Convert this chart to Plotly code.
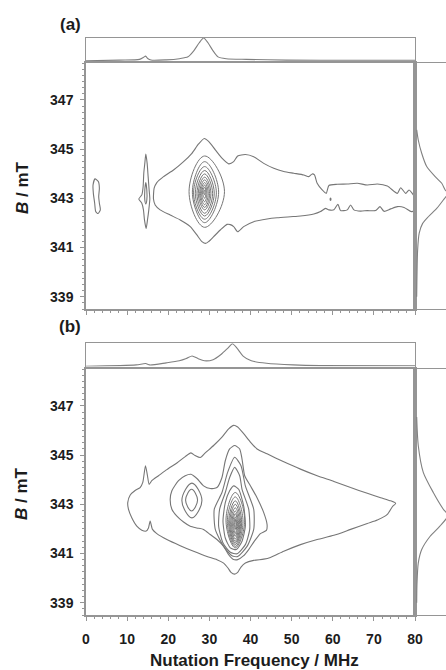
import plotly.graph_objects as go

# ---------------- DATA ----------------
freq_range = [0, 80]
field_range = [338.5, 348.5]
x_ticks = [0, 10, 20, 30, 40, 50, 60, 70, 80]
y_ticks = [339, 341, 343, 345, 347]

# ---- panel (a) contour outlines (Nutation frequency MHz, B mT) ----
a_loop1_f = [2.19, 3.0, 3.25, 3.09, 3.25, 3.49, 2.92, 2.36, 2.11, 1.79, 1.71, 2.19]
a_loop1_b = [343.79, 343.68, 343.41, 343.07, 342.80, 342.53, 342.38, 342.46, 342.80, 343.20, 343.54, 343.79]

a_loop2_f = [14.54, 14.87, 15.11, 15.35, 15.52, 15.27, 14.95, 14.62, 14.22, 13.97, 13.57, 12.84, 13.57, 13.89, 14.05, 14.30, 14.54]
a_loop2_b = [344.80, 344.42, 343.88, 343.34, 342.97, 342.53, 342.12, 341.77, 342.12, 342.53, 342.80, 342.97, 343.14, 343.47, 344.02, 344.42, 344.80]

a_loop3_f = [14.54, 14.79, 14.79, 14.54, 14.30, 14.30, 14.54]
a_loop3_b = [343.64, 343.34, 342.93, 342.77, 342.93, 343.34, 343.64]

a_outer_f = [16.41, 16.57, 17.22, 18.85, 21.28, 23.72, 25.75, 27.38, 28.76, 29.81, 31.44, 33.06, 34.69, 35.91,
             36.88, 38.75, 40.78, 43.22, 45.65, 48.09, 50.53, 52.96, 54.18, 55.00, 55.56, 56.21, 57.43, 58.41,
             59.06, 61.09, 63.53, 65.96, 68.40, 70.84, 73.27, 75.71, 76.52, 77.74, 78.55, 79.77, 80.0,
             79.77, 79.12, 77.34, 75.71, 74.09, 72.46, 71.49, 70.43, 68.40, 66.77, 65.15, 64.34, 63.53, 61.90,
             61.25, 60.28, 59.06, 58.25, 57.03, 55.40, 52.15, 49.72, 46.47, 44.03, 40.78, 38.34, 36.88, 35.91,
             35.09, 34.28, 32.66, 31.03, 29.81, 29.16, 28.19, 26.97, 25.35, 22.91, 20.47, 18.03, 16.82, 16.41]
a_outer_b = [342.97, 343.41, 343.64, 343.88, 344.15, 344.49, 344.83, 345.21, 345.43, 345.31, 344.97, 344.63, 344.40, 344.49,
             344.72, 344.78, 344.69, 344.42, 344.22, 344.09, 344.02, 343.95, 343.88, 343.99, 343.95, 343.61, 343.34, 343.20,
             343.52, 343.57, 343.58, 343.61, 343.54, 343.58, 343.50, 343.20, 343.43, 343.20, 343.34, 343.09, 342.86,
             342.50, 342.46, 342.63, 342.66, 342.57, 342.47, 342.66, 342.50, 342.50, 342.48, 342.53, 342.73, 342.53, 342.50,
             342.76, 342.53, 342.53, 342.59, 342.46, 342.36, 342.28, 342.25, 342.21, 342.16, 342.05, 341.85, 341.64, 341.85,
             341.93, 341.94, 341.71, 341.44, 341.24, 341.17, 341.24, 341.51, 341.85, 342.12, 342.32, 342.53, 342.73, 342.97]

a_dot_f = [59.35, 59.46, 59.57, 59.46, 59.35]
a_dot_b = [342.96, 343.01, 342.96, 342.91, 342.96]

# nested rings around the 29 MHz peak: left, right, top, bottom
a_ring_cf = 28.85
a_ring_left = [25.06, 25.87, 26.16, 26.57, 26.97, 27.30, 27.62, 27.86, 28.11, 28.35, 28.60]
a_ring_right = [33.67, 32.25, 31.70, 31.19, 30.79, 30.38, 30.06, 29.73, 29.41, 29.17, 28.92]
a_ring_top = [344.72, 344.49, 344.29, 344.13, 343.99, 343.86, 343.75, 343.64, 343.54, 343.45, 343.34]
a_ring_bot = [341.82, 342.01, 342.15, 342.28, 342.39, 342.53, 342.63, 342.74, 342.86, 343.00, 343.14]

# ---- panel (b) contour outlines ----
b_outer_f = [10.15, 10.72, 11.94, 13.16, 13.81, 14.46, 14.95, 15.35, 16.00, 17.63, 19.66, 22.10, 24.13, 25.51,
             26.56, 27.78, 29.00, 31.03, 33.06, 34.69, 35.91, 36.88, 38.34, 39.97, 41.59, 44.03, 48.09, 52.15,
             56.21, 60.28, 64.34, 68.40, 71.65, 74.09, 75.30, 74.49, 73.27, 70.84, 68.40, 64.34, 60.28, 56.21,
             52.15, 48.09, 44.84, 43.22, 40.78, 38.75, 37.69, 36.88, 36.15, 35.26, 34.52, 33.47, 31.84, 29.41,
             26.16, 22.91, 19.66, 17.22, 16.17, 15.60, 15.19, 14.62, 13.57, 12.35, 11.13, 10.32, 10.15]
b_outer_b = [343.07, 343.37, 343.56, 343.68, 343.89, 344.57, 344.16, 343.81, 343.96, 344.16, 344.41, 344.68, 344.94, 345.09,
             344.98, 344.90, 345.09, 345.39, 345.73, 346.07, 346.21, 346.14, 345.87, 345.53, 345.25, 345.05, 344.73, 344.43,
             344.16, 343.93, 343.68, 343.45, 343.27, 343.14, 343.04, 342.90, 342.59, 342.36, 342.22, 341.98, 341.74, 341.57,
             341.36, 341.09, 340.84, 340.77, 340.72, 340.61, 340.45, 340.23, 340.16, 340.23, 340.41, 340.61, 340.75, 340.88,
             341.09, 341.32, 341.57, 341.81, 341.98, 342.32, 342.04, 341.91, 341.95, 342.11, 342.45, 342.80, 343.07]

b_lvl2_f = [20.47, 20.88, 22.50, 24.13, 25.51, 26.97, 28.59, 30.22, 31.84, 33.06, 33.87, 34.93, 36.15, 37.37, 37.94,
            38.59, 39.97, 41.59, 43.22, 44.03, 43.87, 42.40, 40.94, 39.56, 38.34, 36.88, 35.74, 34.69, 33.47, 31.84,
            30.22, 28.59, 26.97, 25.35, 23.72, 22.10, 20.88, 20.47]
b_lvl2_b = [343.20, 343.55, 343.96, 344.16, 344.22, 344.05, 343.75, 343.64, 343.68, 344.09, 344.77, 345.25, 345.39, 345.25, 344.84,
            344.16, 343.75, 343.27, 342.66, 342.18, 341.94, 341.81, 341.50, 341.16, 340.91, 340.75, 340.77, 340.95, 341.29, 341.57,
            341.77, 341.98, 342.04, 342.11, 342.28, 342.52, 342.80, 343.20]

b_lvl3_f = [36.15, 37.69, 38.75, 40.78, 40.78, 39.16, 36.88, 35.50, 33.47, 31.44, 31.19, 33.06, 34.44, 36.15]
b_lvl3_b = [344.91, 344.57, 343.75, 342.80, 341.98, 341.29, 340.88, 340.91, 341.29, 341.98, 342.80, 343.48, 344.30, 344.91]

b_lvl4_f = [36.15, 37.37, 37.94, 39.56, 39.81, 38.75, 36.72, 35.09, 33.31, 32.25, 32.49, 33.87, 34.93, 36.15]
b_lvl4_b = [344.50, 344.16, 343.61, 342.80, 341.98, 341.36, 340.99, 341.05, 341.43, 342.11, 342.80, 343.48, 344.09, 344.50]

b_lvl5_f = [35.91, 37.12, 38.34, 38.75, 37.94, 36.56, 35.09, 33.87, 33.31, 33.87, 34.93, 35.91]
b_lvl5_b = [343.75, 343.61, 342.93, 342.11, 341.50, 341.16, 341.23, 341.63, 342.32, 343.07, 343.55, 343.75]

# rings around the 26 MHz peak: left, right, top, bottom
b_side_left = [23.31, 24.21]
b_side_right = [28.19, 27.13]
b_side_top = [343.86, 343.61]
b_side_bot = [342.45, 342.73]

# dense rings around the 36 MHz peak
b_ring_cf = 36.3
b_ring_left = [34.04, 34.36, 34.69, 34.93, 35.17, 35.42, 35.66, 35.91, 36.15]
b_ring_right = [38.59, 38.18, 37.86, 37.61, 37.37, 37.12, 36.88, 36.64, 36.48]
b_ring_top = [343.48, 343.30, 343.14, 343.00, 342.86, 342.73, 342.62, 342.49, 342.39]
b_ring_bot = [341.23, 341.29, 341.36, 341.43, 341.50, 341.59, 341.70, 341.81, 341.98]

# ---- projections (normalised intensity) ----
a_top_f = [0, 8.1, 13.0, 14.0, 14.5, 15.0, 15.8, 19.5, 22.7, 24.8, 26.2, 27.5, 28.6, 29.7, 30.9, 32.1, 34.1, 39.0, 48.7, 65.0, 80.0]
a_top_i = [0.01, 0.04, 0.07, 0.16, 0.21, 0.11, 0.04, 0.05, 0.10, 0.18, 0.44, 0.78, 1.0, 0.78, 0.44, 0.18, 0.10, 0.07, 0.04, 0.03, 0.03]

b_top_f = [0, 12.2, 14.5, 15.5, 19.5, 22.7, 24.4, 25.8, 27.2, 28.8, 30.9, 32.9, 34.5, 35.6, 36.7, 38.2, 40.2, 43.9, 50.4, 56.9, 80.0]
b_top_i = [0.01, 0.07, 0.13, 0.07, 0.16, 0.25, 0.35, 0.46, 0.35, 0.25, 0.30, 0.54, 0.81, 1.0, 0.81, 0.46, 0.25, 0.14, 0.07, 0.04, 0.03]

a_side_b = [345.78, 345.37, 344.83, 344.29, 343.88, 343.61, 343.34, 343.20, 342.93, 342.59, 342.25, 341.98, 341.58, 340.90, 339.0]
a_side_i = [0.0, 0.05, 0.16, 0.32, 0.59, 0.80, 0.91, 1.0, 0.85, 0.64, 0.37, 0.19, 0.08, 0.03, 0.0]

b_side_b = [346.55, 345.39, 344.30, 343.48, 342.80, 342.55, 342.11, 341.70, 341.16, 340.61, 339.79, 339.0]
b_side_i = [0.0, 0.05, 0.21, 0.53, 0.85, 1.0, 0.74, 0.43, 0.16, 0.05, 0.01, 0.0]

# ---------------- FIGURE ----------------
W, H = 446, 670
LINE = "#767676"
FRAME = "#959595"
TXT = "#1c1c1c"


def xd(a, b):
    return [a / W, b / W]


def yd(top, bot):
    return [1 - bot / H, 1 - top / H]


def ring(cf, left, right, top, bot):
    mid = (top + bot) / 2
    return [cf, right, cf, left, cf], [top, mid, bot, mid, top]


fig = go.Figure()


def add_line(xs, ys, xa, ya, smooth=0.8, width=1.1, color=LINE):
    fig.add_trace(go.Scatter(x=xs, y=ys, mode="lines", xaxis=xa, yaxis=ya,
                             line=dict(color=color, width=width, shape="spline", smoothing=smooth),
                             hoverinfo="skip", showlegend=False))


# panel (a) main : x / y
for fx, by in [(a_loop1_f, a_loop1_b), (a_loop2_f, a_loop2_b), (a_loop3_f, a_loop3_b),
               (a_outer_f, a_outer_b), (a_dot_f, a_dot_b)]:
    add_line(fx, by, "x", "y", smooth=0.6)
for l, r, t, b in zip(a_ring_left, a_ring_right, a_ring_top, a_ring_bot):
    fx, by = ring(a_ring_cf, l, r, t, b)
    add_line(fx, by, "x", "y", smooth=1.2, width=1.0)

# panel (a) projections
add_line(a_top_f, a_top_i, "x2", "y2", smooth=0.7, color="#808080")
add_line(a_side_i, a_side_b, "x3", "y3", smooth=0.7, color="#808080")

# panel (b) main : x4 / y4
for fx, by in [(b_outer_f, b_outer_b), (b_lvl2_f, b_lvl2_b), (b_lvl3_f, b_lvl3_b),
               (b_lvl4_f, b_lvl4_b), (b_lvl5_f, b_lvl5_b)]:
    add_line(fx, by, "x4", "y4", smooth=0.6)
for l, r, t, b in zip(b_side_left, b_side_right, b_side_top, b_side_bot):
    fx, by = ring((l + r) / 2, l, r, t, b)
    add_line(fx, by, "x4", "y4", smooth=1.1)
for l, r, t, b in zip(b_ring_left, b_ring_right, b_ring_top, b_ring_bot):
    fx, by = ring(b_ring_cf, l, r, t, b)
    add_line(fx, by, "x4", "y4", smooth=1.2, width=1.0)

# panel (b) projections
add_line(b_top_f, b_top_i, "x5", "y5", smooth=0.7, color="#808080")
add_line(b_side_i, b_side_b, "x6", "y6", smooth=0.7, color="#808080")

tickfont = dict(family="Liberation Sans, Arial, sans-serif", size=14, color=TXT, weight="bold")

main_x = dict(range=freq_range, showline=True, mirror=True, linecolor=FRAME, linewidth=1.5,
              showgrid=False, zeroline=False, ticks="outside", ticklen=4, tickcolor=FRAME,
              tickvals=x_ticks, tickfont=tickfont, ticklabelstandoff=6,
              minor=dict(dtick=2, tick0=0, ticks="outside", ticklen=2, tickcolor=FRAME))
main_y = dict(range=field_range, showline=True, mirror=True, linecolor=FRAME, linewidth=1.5,
              showgrid=False, zeroline=False, ticks="outside", ticklen=4, tickcolor=FRAME,
              tickvals=y_ticks, tickfont=tickfont, ticklabelstandoff=4,
              minor=dict(dtick=0.25, tick0=339, ticks="outside", ticklen=2, tickcolor=FRAME))
proj_top_x = dict(range=freq_range, showline=True, mirror=True, linecolor=FRAME, linewidth=1,
                  showgrid=False, zeroline=False, showticklabels=False, ticks="")
proj_top_y = dict(range=[0, 1.02], showline=True, mirror=True, linecolor=FRAME, linewidth=1,
                  showgrid=False, zeroline=False, showticklabels=False, ticks="")
proj_side_x = dict(range=[-0.054, 0.936], showline=True, mirror=True, linecolor=FRAME, linewidth=1,
                   showgrid=False, zeroline=False, showticklabels=False, ticks="")
proj_side_y = dict(range=field_range, showline=True, mirror=False, linecolor=FRAME, linewidth=1.5,
                   showgrid=False, zeroline=False, showticklabels=False, ticks="")

layout = dict(
    width=W, height=H, autosize=False, margin=dict(l=0, r=0, t=0, b=0, pad=0, autoexpand=False),
    paper_bgcolor="white", plot_bgcolor="white", showlegend=False,
    xaxis=dict(main_x, domain=xd(86, 415), anchor="y", showticklabels=False),
    yaxis=dict(main_y, domain=yd(63, 309), anchor="x"),
    xaxis2=dict(proj_top_x, domain=xd(86, 415), anchor="y2"),
    yaxis2=dict(proj_top_y, domain=yd(37.5, 61), anchor="x2"),
    xaxis3=dict(proj_side_x, domain=xd(415, 446), anchor="y3"),
    yaxis3=dict(proj_side_y, domain=yd(63, 309), anchor="x3"),
    xaxis4=dict(main_x, domain=xd(86, 415), anchor="y4"),
    yaxis4=dict(main_y, domain=yd(369, 615), anchor="x4"),
    xaxis5=dict(proj_top_x, domain=xd(86, 415), anchor="y5"),
    yaxis5=dict(proj_top_y, domain=yd(343.3, 366.5), anchor="x5"),
    xaxis6=dict(proj_side_x, domain=xd(415, 446), anchor="y6"),
    yaxis6=dict(proj_side_y, domain=yd(369, 615), anchor="x6"),
)
fig.update_layout(**layout)

lab_font = dict(family="Liberation Sans, Arial, sans-serif", size=17, color=TXT, weight="bold")
ann = [
    dict(text="(a)", x=70 / W, y=1 - 25 / H),
    dict(text="(b)", x=70 / W, y=1 - 326 / H),
    dict(text="Nutation Frequency / MHz", x=254 / W, y=1 - 660 / H),
]
for a in ann:
    fig.add_annotation(xref="paper", yref="paper", showarrow=False, xanchor="center", yanchor="middle",
                       font=lab_font, **a)
for yc in [188, 494]:
    fig.add_annotation(xref="paper", yref="paper", showarrow=False, xanchor="center", yanchor="middle",
                       x=22 / W, y=1 - yc / H, text="<i>B</i> / mT", textangle=-90, font=lab_font)

fig.write_html("out.html", config={"responsive": False, "displayModeBar": False},
               post_script="document.body.style.margin='0';document.body.style.overflow='hidden';"
                           "document.documentElement.style.overflow='hidden';")
